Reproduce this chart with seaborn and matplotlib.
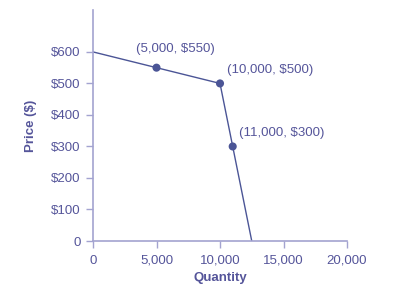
import matplotlib
matplotlib.use("Agg")
import matplotlib.pyplot as plt
import seaborn as sns
import pandas as pd

# Data
curve_qty = [0, 10000, 12500]
curve_price = [600, 500, 0]
point_qty = [5000, 10000, 11000]
point_price = [550, 500, 300]
point_labels = ["(5,000, $550)", "(10,000, $500)", "(11,000, $300)"]
x_ticks = [0, 5000, 10000, 15000, 20000]
x_tick_labels = ["0", "5,000", "10,000", "15,000", "20,000"]
y_ticks = [0, 100, 200, 300, 400, 500, 600]
y_tick_labels = ["0", "$100", "$200", "$300", "$400", "$500", "$600"]

sns.set_style("white")
plt.rcParams['font.family'] = ['Liberation Sans', 'DejaVu Sans']

text_color = "#55559a"
axis_color = "#a3a3d0"
mark_color = "#4b5596"
fs = 9.5

fig = plt.figure(figsize=(3.94, 2.99), dpi=100)
ax = fig.add_axes([93/394, 1 - 241/299, (347 - 93)/394, (241 - 10)/299])

curve = pd.DataFrame({"Quantity": curve_qty, "Price": curve_price})
pts = pd.DataFrame({"Quantity": point_qty, "Price": point_price})
sns.lineplot(data=curve, x="Quantity", y="Price", ax=ax, color=mark_color,
             linewidth=1.0, sort=False)
sns.scatterplot(data=pts, x="Quantity", y="Price", ax=ax, color=mark_color,
                s=34, edgecolor="none", zorder=3)

offsets = [(-21, 19), (7, 13), (6, 13)]
for q, p, lab, off in zip(point_qty, point_price, point_labels, offsets):
    ax.annotate(lab, (q, p), xytext=off, textcoords="offset pixels",
                ha="left", va="center", fontsize=fs, color=text_color)

ax.set_xlim(0, 20000)
ax.set_ylim(0, 733)
ax.set_xticks(x_ticks)
ax.set_xticklabels(x_tick_labels)
ax.set_yticks(y_ticks)
ax.set_yticklabels(y_tick_labels)
ax.tick_params(axis="both", colors=axis_color, labelcolor=text_color,
               labelsize=fs, length=5, width=1, direction="out",
               bottom=True, left=True)
ax.tick_params(axis="x", pad=5)
ax.tick_params(axis="y", pad=4)

for side in ["top", "right"]:
    ax.spines[side].set_visible(False)
for side in ["left", "bottom"]:
    ax.spines[side].set_color(axis_color)
    ax.spines[side].set_linewidth(1.2)

ax.set_xlabel("Quantity", fontsize=fs, fontweight="bold", color=text_color, labelpad=4)
ax.set_ylabel("Price ($)", fontsize=fs, fontweight="bold", color=text_color, labelpad=10)

fig.savefig("out.png", dpi=100)
